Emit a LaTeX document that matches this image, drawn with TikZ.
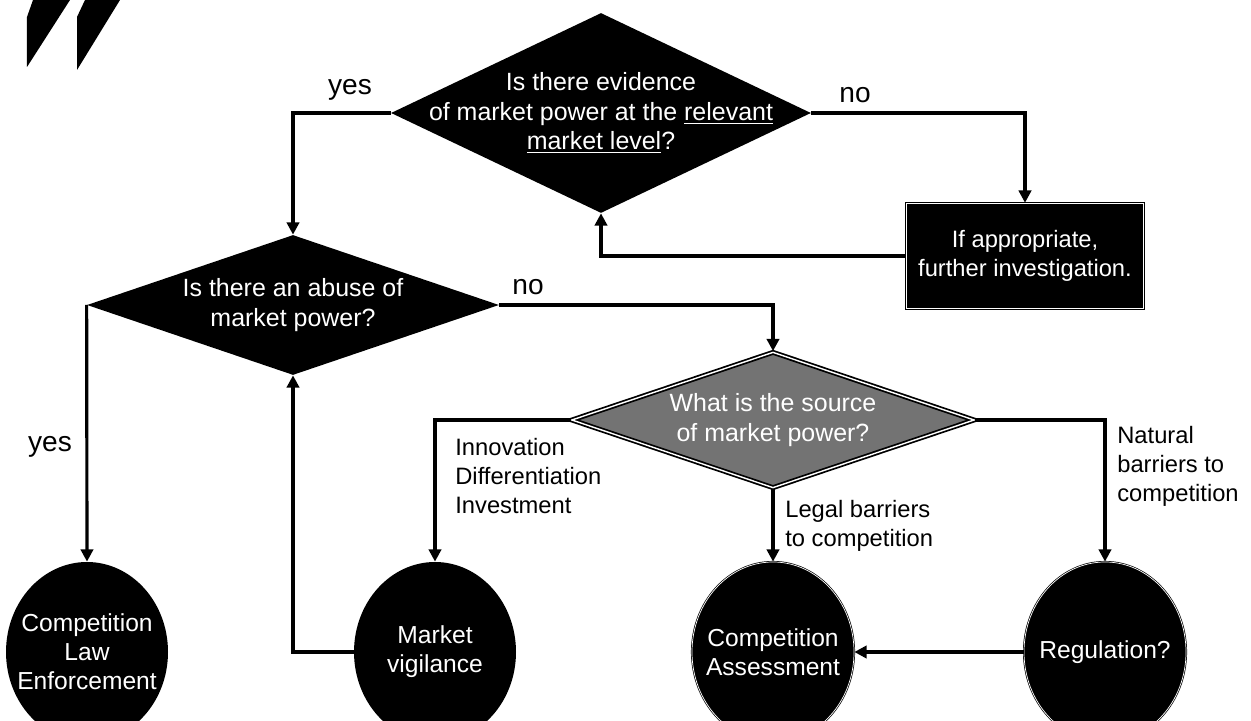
\documentclass[tikz,border=0pt]{standalone}
\usepackage{fontspec}
\setmainfont{Liberation Sans}
\usetikzlibrary{shapes.geometric,arrows.meta}

\begin{document}
\begin{tikzpicture}[
    decision/.style={diamond, fill=black, text=white, align=center, inner sep=-1.5cm,
          font=\fontsize{14.2}{16.8}\selectfont},
    outcome/.style={ellipse, fill=black, text=white, align=center, inner sep=-1cm,
          font=\fontsize{14}{16.5}\selectfont,
          minimum width=3.24cm, minimum height=3.6cm},
    flow/.style={line width=1.8pt, -{Triangle[length=7pt,width=7pt]}},
    lbl/.style={align=left, inner sep=0pt},
    answer/.style={inner sep=0pt, font=\fontsize{16}{19}\selectfont}]
\fontsize{13.5}{16.5}\selectfont
\useasboundingbox (0,0) rectangle (25.02,14.4);
\clip (0,0) rectangle (25.02,14.4);

% quote marks
\fill (0.66,14.4) -- (1.4,14.4) -- (0.54,13.06) -- (0.54,14.06) -- cycle;
\fill (1.7,14.4) -- (2.4,14.4) -- (1.54,13.0) -- (1.54,14.06) -- cycle;

% questions
\node[decision, minimum width=8.4cm, minimum height=4cm] (evid) at (12.02,12.14)
    {Is there evidence\\of market power at the \underline{relevant}\\\underline{market level}?};

\node[decision, minimum width=8.24cm, minimum height=2.8cm] (abuse) at (5.86,8.3)
    {Is there an abuse of\\market power?};

\node[decision, fill=black!55, draw=black, double=white, line width=1pt,
          double distance=0.8pt, minimum width=8.06cm, minimum height=2.72cm] (source)
    at (15.46,6.0) {What is the source\\of market power?};

\node[rectangle, fill=black, draw=black, double=white, line width=0.8pt,
          double distance=0.6pt, text=white, align=center,
          minimum width=4.74cm, minimum height=2.1cm] (invest)
    at (20.5,9.28) {If appropriate,\\further investigation.};

% outcomes
\node[outcome] (cle) at (1.74,1.36) {Competition\\Law\\Enforcement};
\node[outcome] (mv) at (8.7,1.36) {Market\\vigilance};
\node[outcome, draw=black, double=white, double distance=0.4pt] (ca)
    at (15.46,1.36) {Competition\\Assessment};
\node[outcome, draw=black, double=white, double distance=0.4pt] (reg)
    at (22.1,1.36) {Regulation?};

% connectors
\draw[flow] (evid.west) -| (abuse.north);
\draw[flow] (evid.east) -| (invest.north);
\draw[flow] (invest.west) -| (evid.south);
\draw[flow] (abuse.east) -| (source.north);
\draw[flow] (abuse.west) -- (cle.north);
\draw[flow] (mv.west) -| (abuse.south);
\draw[flow] (source.west) -| (mv.north);
\draw[flow] (source.south) -- (ca.north);
\draw[flow] (source.east) -| (reg.north);
\draw[flow] (reg.west) -- (ca.east);

% labels
\node[answer] (yestop) at (7.0,12.6) {yes};
\node[answer] (notop) at (17.1,12.5) {no};
\node[answer] (nomid) at (10.56,8.65) {no};
\node[answer] (yesleft) at (1.0,5.46) {yes};
\node[lbl, anchor=west] (srcinv) at (9.1,4.88) {Innovation\\Differentiation\\Investment};
\node[lbl, anchor=west] (srclegal) at (15.7,3.88) {Legal barriers\\to competition};
\node[lbl, anchor=west] (srcnat) at (22.34,5.08) {Natural\\barriers to\\competition};
\end{tikzpicture}
\end{document}
